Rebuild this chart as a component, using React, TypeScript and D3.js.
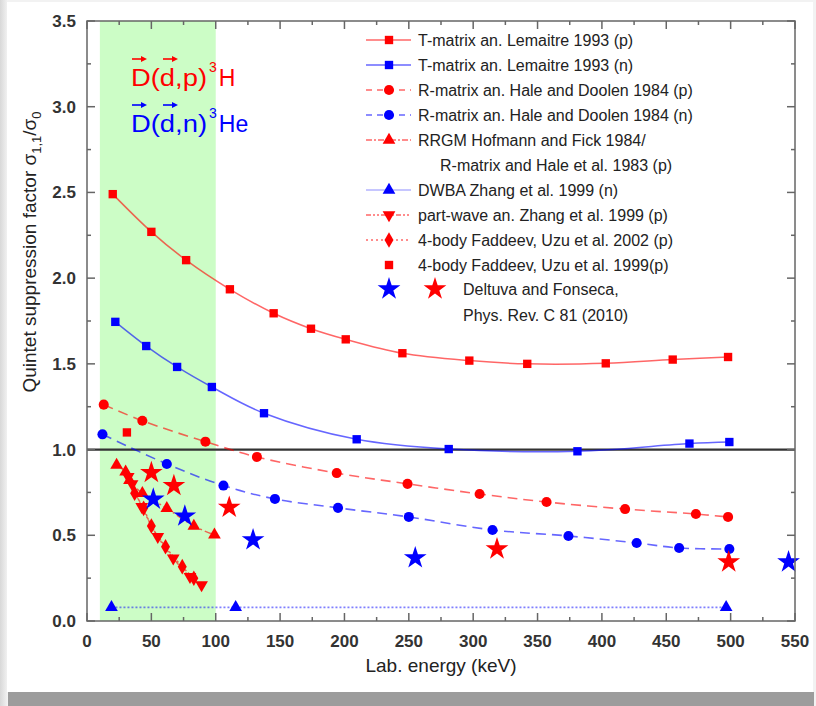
import React from "react";
import * as d3 from "d3";

const xTicks = [0, 50, 100, 150, 200, 250, 300, 350, 400, 450, 500, 550];
const yTicks = [0, 0.5, 1.0, 1.5, 2.0, 2.5, 3.0, 3.5];

const tmatP_E = [20, 50, 77, 111, 145, 174, 201, 245, 297, 342, 403, 455, 498];
const tmatP_V = [2.49, 2.27, 2.105, 1.935, 1.795, 1.705, 1.643, 1.562, 1.519, 1.5, 1.503, 1.525, 1.54];

const tmatN_E = [22, 46, 70, 97, 137.5, 209.5, 281, 381, 468, 499];
const tmatN_V = [1.745, 1.604, 1.482, 1.365, 1.212, 1.06, 1.003, 0.99, 1.035, 1.044];

const rmatP_E = [13, 43, 92, 132, 194, 249, 305, 357, 418, 473, 498];
const rmatP_V = [1.262, 1.168, 1.046, 0.957, 0.863, 0.8, 0.741, 0.694, 0.653, 0.624, 0.607];

const rmatN_E = [12, 62, 106, 146, 195, 250, 315, 374, 427, 460, 499];
const rmatN_V = [1.089, 0.916, 0.79, 0.712, 0.66, 0.607, 0.531, 0.496, 0.455, 0.426, 0.42];

const rrgm_E = [23, 30, 33, 43, 62, 83, 99];
const rrgm_V = [0.91, 0.87, 0.82, 0.745, 0.657, 0.554, 0.502];

const partwave_E = [32, 35, 42.5, 55, 67, 80, 89];
const partwave_V = [0.842, 0.8, 0.667, 0.492, 0.366, 0.258, 0.21];

const fad2002_E = [37, 44, 50, 61, 74, 83];
const fad2002_V = [0.745, 0.657, 0.554, 0.433, 0.317, 0.249];

const fad1999_E = [31];
const fad1999_V = [1.1];

const dwba_E = [19, 115.5, 496.5];
const dwba_V = [0.08, 0.08, 0.08];

const starBlue_E = [51.5, 76, 129, 255, 545];
const starBlue_V = [0.71, 0.612, 0.473, 0.368, 0.344];
const starRed_E = [50, 67.5, 110.5, 318.5, 498.5];
const starRed_V = [0.865, 0.79, 0.663, 0.42, 0.344];

const legendLabels = [
  "T-matrix an. Lemaitre 1993 (p)",
  "T-matrix an. Lemaitre 1993 (n)",
  "R-matrix an. Hale and Doolen 1984 (p)",
  "R-matrix an. Hale and Doolen 1984 (n)",
  "RRGM Hofmann and Fick 1984/",
  "R-matrix and Hale et al. 1983 (p)",
  "DWBA Zhang et al. 1999 (n)",
  "part-wave an. Zhang et al. 1999 (p)",
  "4-body Faddeev, Uzu et al. 2002 (p)",
  "4-body Faddeev, Uzu et al. 1999(p)",
  "Deltuva and Fonseca,",
  "Phys. Rev. C 81 (2010)",
];

const RED = "#ff0000";
const BLUE = "#0000ff";
const FONT = "'Liberation Sans', Arial, sans-serif";

const x = d3.scaleLinear().domain([0, 550]).range([87, 795]);
const y = d3.scaleLinear().domain([0, 3.5]).range([621, 21]);

const zip = (e: number[], v: number[]) => e.map((d, i) => [d, v[i]] as [number, number]);

const lineGen = (curve: any) =>
  d3
    .line<[number, number]>()
    .x((d) => x(d[0]))
    .y((d) => y(d[1]))
    .curve(curve);

const sym = (type: any, size: number) => d3.symbol().type(type).size(size)() as string;

const SQ = sym(d3.symbolSquare, 70);
const CI = sym(d3.symbolCircle, 80);
const TRI = sym(d3.symbolTriangle, 70);
const DIA = sym(d3.symbolDiamond, 70);
const STAR = sym(d3.symbolStar, 160);
const TRI_DOWN = TRI;

function Markers({ pts, path, color, rot = 0 }: any) {
  return (
    <g>
      {pts.map((p: [number, number], i: number) => (
        <path
          key={i}
          d={path}
          fill={color}
          transform={`translate(${x(p[0])},${y(p[1])}) rotate(${rot})`}
        />
      ))}
    </g>
  );
}

function Arrow({ x1, x2, yy, color }: any) {
  return (
    <g>
      <line x1={x1} x2={x2 - 4} y1={yy} y2={yy} stroke={color} strokeWidth={1.6} />
      <path d={`M${x2},${yy} L${x2 - 6},${yy - 3} L${x2 - 6},${yy + 3} Z`} fill={color} />
    </g>
  );
}

export default function App() {
  const smooth = lineGen(d3.curveCatmullRom.alpha(0.5));

  const xMinor = d3.range(25, 550, 50);
  const yMinor = d3.range(0.25, 3.5, 0.5);

  const legendRows = [40, 65, 90, 115, 140, 165, 190, 215, 240, 265, 289, 315];
  const lx1 = 366, lx2 = 411, lm = 389, lt = 418;

  return (
    <svg
      width={816}
      height={706}
      style={{ position: "absolute", left: 0, top: 0 }}
      fontFamily={FONT}
    >
      <defs>
        <linearGradient id="lsh" x1="0" x2="1" y1="0" y2="0">
          <stop offset="0" stopColor="#d8d8d8" />
          <stop offset="1" stopColor="#f4f4f4" />
        </linearGradient>
      </defs>
      <rect x={0} y={0} width={816} height={706} fill="#f2f2f2" />
      <rect x={0} y={0} width={8} height={706} fill="url(#lsh)" />
      <rect x={8} y={692} width={806} height={14} fill="#9c9c9c" />
      <rect x={7} y={2} width={806} height={690} fill="#ffffff" />

      {/* green band */}
      <rect
        x={x(10)}
        y={y(3.5)}
        width={x(100) - x(10)}
        height={y(0) - y(3.5)}
        fill="#ccfdc6"
      />

      {/* reference line at 1 */}
      <line x1={x(0)} x2={x(550)} y1={y(1)} y2={y(1)} stroke="#333" strokeWidth={2.2} />

      {/* lines */}
      <path d={smooth(zip(tmatP_E, tmatP_V)) as string} fill="none" stroke={RED} strokeOpacity={0.6} strokeWidth={1.5} />
      <path d={smooth(zip(tmatN_E, tmatN_V)) as string} fill="none" stroke={BLUE} strokeOpacity={0.6} strokeWidth={1.5} />
      <path d={smooth(zip(rmatP_E, rmatP_V)) as string} fill="none" stroke={RED} strokeOpacity={0.6} strokeWidth={1.6} strokeDasharray="10,6" />
      <path d={smooth(zip(rmatN_E, rmatN_V)) as string} fill="none" stroke={BLUE} strokeOpacity={0.6} strokeWidth={1.6} strokeDasharray="10,6" />
      <path d={smooth(zip(rrgm_E, rrgm_V)) as string} fill="none" stroke={RED} strokeOpacity={0.6} strokeWidth={1.5} strokeDasharray="8,3,2,3" />
      <path d={smooth(zip(partwave_E, partwave_V)) as string} fill="none" stroke={RED} strokeOpacity={0.6} strokeWidth={1.5} strokeDasharray="6,2,2,2,2,2" />
      <path d={smooth(zip(fad2002_E, fad2002_V)) as string} fill="none" stroke={RED} strokeOpacity={0.6} strokeWidth={1.5} strokeDasharray="2,2" />
      <path d={lineGen(d3.curveLinear)(zip(dwba_E, dwba_V)) as string} fill="none" stroke={BLUE} strokeOpacity={0.5} strokeWidth={1.8} strokeDasharray="2,2" />

      {/* markers */}
      <Markers pts={zip(tmatP_E, tmatP_V)} path={SQ} color={RED} />
      <Markers pts={zip(tmatN_E, tmatN_V)} path={SQ} color={BLUE} />
      <Markers pts={zip(rmatP_E, rmatP_V)} path={CI} color={RED} />
      <Markers pts={zip(rmatN_E, rmatN_V)} path={CI} color={BLUE} />
      <Markers pts={zip(rrgm_E, rrgm_V)} path={TRI} color={RED} />
      <Markers pts={zip(partwave_E, partwave_V)} path={TRI_DOWN} color={RED} rot={180} />
      <Markers pts={zip(fad2002_E, fad2002_V)} path={DIA} color={RED} />
      <Markers pts={zip(fad1999_E, fad1999_V)} path={SQ} color={RED} />
      <Markers pts={zip(dwba_E, dwba_V)} path={TRI} color={BLUE} />
      <Markers pts={zip(starBlue_E, starBlue_V)} path={STAR} color={BLUE} />
      <Markers pts={zip(starRed_E, starRed_V)} path={STAR} color={RED} />

      {/* frame */}
      <rect
        x={x(0)}
        y={y(3.5)}
        width={x(550) - x(0)}
        height={y(0) - y(3.5)}
        fill="none"
        stroke="#666"
        strokeWidth={1.5}
      />
      {xTicks.map((t) => (
        <g key={"xt" + t}>
          <line x1={x(t)} x2={x(t)} y1={y(0)} y2={y(0) - 8} stroke="#666" strokeWidth={1.5} />
          <line x1={x(t)} x2={x(t)} y1={y(3.5)} y2={y(3.5) + 8} stroke="#666" strokeWidth={1.5} />
          <text x={x(t)} y={647} textAnchor="middle" fontSize={17} fill="#333" fontWeight="bold">
            {t}
          </text>
        </g>
      ))}
      {xMinor.map((t) => (
        <g key={"xm" + t}>
          <line x1={x(t)} x2={x(t)} y1={y(0)} y2={y(0) - 4} stroke="#666" strokeWidth={1.5} />
          <line x1={x(t)} x2={x(t)} y1={y(3.5)} y2={y(3.5) + 4} stroke="#666" strokeWidth={1.5} />
        </g>
      ))}
      {yTicks.map((t) => (
        <g key={"yt" + t}>
          <line x1={x(0)} x2={x(0) + 8} y1={y(t)} y2={y(t)} stroke="#666" strokeWidth={1.5} />
          <line x1={x(550)} x2={x(550) - 8} y1={y(t)} y2={y(t)} stroke="#666" strokeWidth={1.5} />
          <text x={76} y={y(t) + 6} textAnchor="end" fontSize={17} fill="#333" fontWeight="bold">
            {t.toFixed(1)}
          </text>
        </g>
      ))}
      {yMinor.map((t) => (
        <g key={"ym" + t}>
          <line x1={x(0)} x2={x(0) + 4} y1={y(t)} y2={y(t)} stroke="#666" strokeWidth={1.5} />
          <line x1={x(550)} x2={x(550) - 4} y1={y(t)} y2={y(t)} stroke="#666" strokeWidth={1.5} />
        </g>
      ))}

      {/* axis titles */}
      <text x={441} y={672} textAnchor="middle" fontSize={19} fill="#222">
        Lab. energy (keV)
      </text>
      <text transform="translate(36,252) rotate(-90)" textAnchor="middle" fontSize={19} fill="#222">
        Quintet suppression factor σ
        <tspan fontSize={13} dy={5}>1,1</tspan>
        <tspan dy={-5}>/σ</tspan>
        <tspan fontSize={13} dy={5}>0</tspan>
      </text>

      {/* reaction annotations */}
      <g fill={RED}>
        <text x={131} y={86} fontSize={23}>
          <tspan textLength={76} lengthAdjust="spacingAndGlyphs">D(d,p)</tspan>
          <tspan fontSize={14} dx={2} dy={-14}>3</tspan>
          <tspan dx={2} dy={14}>H</tspan>
        </text>
        <Arrow x1={132} x2={147} yy={59} color={RED} />
        <Arrow x1={163} x2={178} yy={59} color={RED} />
      </g>
      <g fill={BLUE}>
        <text x={131} y={132} fontSize={23}>
          <tspan textLength={76} lengthAdjust="spacingAndGlyphs">D(d,n)</tspan>
          <tspan fontSize={14} dx={2} dy={-14}>3</tspan>
          <tspan dx={2} dy={14}>He</tspan>
        </text>
        <Arrow x1={132} x2={147} yy={105} color={BLUE} />
        <Arrow x1={163} x2={178} yy={105} color={BLUE} />
      </g>

      {/* legend */}
      <g fontSize={16} fill="#222">
        <line x1={lx1} x2={lx2} y1={legendRows[0]} y2={legendRows[0]} stroke={RED} strokeOpacity={0.6} strokeWidth={1.5} />
        <path d={SQ} fill={RED} transform={`translate(${lm},${legendRows[0]})`} />
        <line x1={lx1} x2={lx2} y1={legendRows[1]} y2={legendRows[1]} stroke={BLUE} strokeOpacity={0.6} strokeWidth={1.5} />
        <path d={SQ} fill={BLUE} transform={`translate(${lm},${legendRows[1]})`} />
        <line x1={lx1} x2={lx2} y1={legendRows[2]} y2={legendRows[2]} stroke={RED} strokeOpacity={0.6} strokeWidth={1.5} strokeDasharray="6,5" />
        <path d={CI} fill={RED} transform={`translate(${lm},${legendRows[2]})`} />
        <line x1={lx1} x2={lx2} y1={legendRows[3]} y2={legendRows[3]} stroke={BLUE} strokeOpacity={0.6} strokeWidth={1.5} strokeDasharray="6,5" />
        <path d={CI} fill={BLUE} transform={`translate(${lm},${legendRows[3]})`} />
        <line x1={lx1} x2={lx2} y1={legendRows[4]} y2={legendRows[4]} stroke={RED} strokeOpacity={0.6} strokeWidth={1.5} strokeDasharray="6,2,2,2" />
        <path d={TRI} fill={RED} transform={`translate(${lm},${legendRows[4]})`} />
        <line x1={lx1} x2={lx2} y1={legendRows[6]} y2={legendRows[6]} stroke={BLUE} strokeOpacity={0.45} strokeWidth={1.2} />
        <path d={TRI} fill={BLUE} transform={`translate(${lm},${legendRows[6]})`} />
        <line x1={lx1} x2={lx2} y1={legendRows[7]} y2={legendRows[7]} stroke={RED} strokeOpacity={0.6} strokeWidth={1.5} strokeDasharray="5,2,2,2,2,2" />
        <path d={TRI_DOWN} fill={RED} transform={`translate(${lm},${legendRows[7]}) rotate(180)`} />
        <line x1={lx1} x2={lx2} y1={legendRows[8]} y2={legendRows[8]} stroke={RED} strokeOpacity={0.6} strokeWidth={1.5} strokeDasharray="2,3" />
        <path d={DIA} fill={RED} transform={`translate(${lm},${legendRows[8]})`} />
        <path d={SQ} fill={RED} transform={`translate(${lm},${legendRows[9]})`} />
        <path d={STAR} fill={BLUE} transform={`translate(${lm},${legendRows[10]})`} />
        <path d={STAR} fill={RED} transform={`translate(435,${legendRows[10]})`} />

        {legendLabels.map((l, i) => {
          let tx = lt;
          if (i === 5) tx = 440;
          if (i === 10 || i === 11) tx = 463;
          return (
            <text key={i} x={tx} y={legendRows[i] + 6}>
              {l}
            </text>
          );
        })}
      </g>
    </svg>
  );
}
